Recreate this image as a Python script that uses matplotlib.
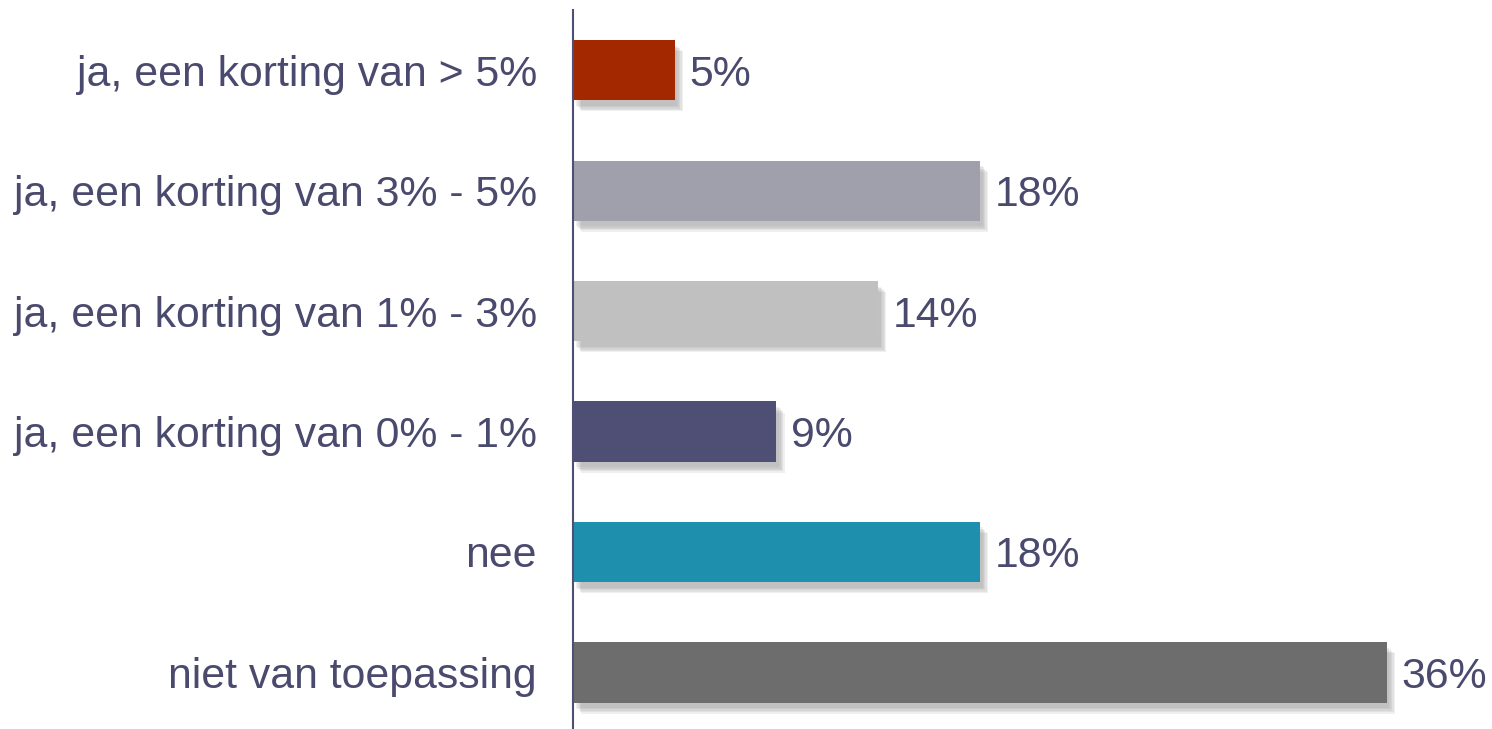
import matplotlib.pyplot as plt
import matplotlib.patheffects as pe

categories = ['ja, een korting van > 5%', 'ja, een korting van 3% - 5%',
              'ja, een korting van 1% - 3%', 'ja, een korting van 0% - 1%',
              'nee', 'niet van toepassing']
values = [4.5, 18, 13.5, 9, 18, 36]
value_labels = ['5%', '18%', '14%', '9%', '18%', '36%']
colors = ['#A32800', '#A0A0AC', '#C0C0C0', '#4F4F75', '#1F8FAE', '#6D6D6D']

text_color = '#4A4A6E'
plt.rcParams['font.family'] = ['Liberation Sans', 'DejaVu Sans']

fig = plt.figure(figsize=(14.92, 7.29), dpi=100)
ax = fig.add_axes([573 / 1492, 0, 1 - 573 / 1492, 719 / 729])

ypos = list(range(len(categories)))
bars = ax.barh(ypos, values, height=0.5, color=colors, zorder=3)
# soft drop shadow, built from a few offset layers
shadow = [pe.SimplePatchShadow(offset=(dx, -dy), shadow_rgbFace='#808080', alpha=0.12)
          for dx, dy in [(6, 8), (5, 7), (4, 6), (3, 5), (2, 4)]]
for b in bars:
    b.set_path_effects(shadow + [pe.Normal()])

for y, v, lab in zip(ypos, values, value_labels):
    ax.text(v + 0.65, y, lab, va='center_baseline', ha='left', fontsize=30.8, color=text_color)

ax.set_xlim(0, 919 / 22.6)
ax.set_ylim(5.47, -0.5)
ax.set_yticks(ypos)
ax.set_yticklabels(categories, fontsize=30.8, color=text_color, va='center_baseline')
ax.tick_params(axis='y', length=0, pad=26)
ax.set_xticks([])
for s in ['top', 'right', 'bottom']:
    ax.spines[s].set_visible(False)
ax.spines['left'].set_color('#4F4F75')
ax.spines['left'].set_linewidth(1.5)
ax.spines['left'].set_zorder(4)

fig.savefig('out.png', dpi=100)
